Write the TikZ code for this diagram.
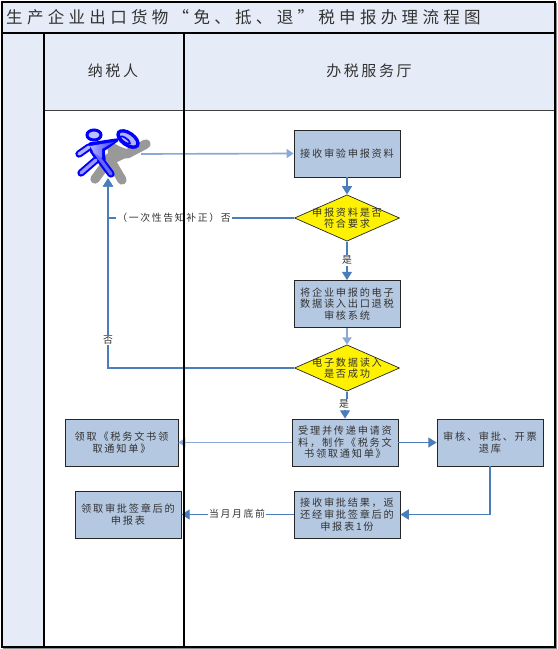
\documentclass[tikz,border=0pt]{standalone}
\usepackage{fontspec}
\usepackage{xcolor}
\setmainfont{Noto Sans CJK SC}[LetterSpace=17]
\newfontfamily\titlefont{Noto Sans CJK SC}[LetterSpace=26]
\usetikzlibrary{arrows.meta, positioning, calc, shapes.geometric, shadows}
\definecolor{laneblue}{HTML}{E6ECF7}
\definecolor{boxblue}{HTML}{B5C8E2}
\definecolor{flowblue}{HTML}{4A7EBB}
\definecolor{paleblue}{HTML}{8BA9D6}
\definecolor{inkgray}{HTML}{333333}

\begin{document}
\begin{tikzpicture}[
  x=0.03cm, y=-0.03cm,
  lane/.style={draw=black, line width=0.9pt, fill=laneblue},
  rule/.style={draw=black, line width=0.9pt},
  thinrule/.style={draw=black!75, line width=0.7pt},
  task/.style={rectangle, draw=black!85, line width=0.7pt, fill=boxblue, minimum width=3.18cm, minimum height=1.41cm, align=center, font=\fontsize{8.7pt}{9.9pt}\selectfont, text=inkgray, inner sep=0pt, drop shadow={shadow xshift=0.5pt, shadow yshift=-0.5pt, fill=black!45, opacity=1}},
  check/.style={diamond, draw=black!85, line width=0.6pt, fill=yellow, minimum width=3.15cm, minimum height=1.39cm, inner sep=0pt},
  cell/.style={align=center, font=\fontsize{8.7pt}{9.9pt}\selectfont, text=inkgray, inner sep=0pt},
  tag/.style={font=\fontsize{8.4pt}{9.9pt}\selectfont, text=inkgray, fill=white, inner sep=1pt},
  head/.style={font=\fontsize{12.8pt}{14pt}\selectfont, text=inkgray},
  arrow/.style={-{Triangle[length=2.5mm, width=3mm]}, flowblue, line width=1.25pt},
  palearrow/.style={-{Triangle[length=2.1mm, width=2.7mm]}, paleblue, line width=1.4pt},
  actorline/.style={line cap=round, line join=round},
  limb/.style={actorline, blue, line width=0.22cm},
  limbcore/.style={actorline, line width=0.1cm}
]
\useasboundingbox (0,0) rectangle (557,649);
\fill[black!45] (3,3) rectangle (557,649);
\draw[lane] (2,2) rectangle (555,647);
\fill[white] (44,110) rectangle (555,647);
\node[font=\fontsize{14.1pt}{16pt}\titlefont, text=inkgray, anchor=west, inner sep=0pt] (title) at (6,17) {生产企业出口货物“免、抵、退”税申报办理流程图};
\node[head] (taxpayer) at (113,71) {纳税人};
\node[head] (hall) at (369,71) {办税服务厅};

\draw[black!40, fill=black!40, line width=0.2cm, actorline] (112,146) -- (126,154) -- (110,162) -- cycle;
\draw[black!40, line width=0.28cm, actorline] (112,149) -- (127,154) -- (146,144);
\draw[black!40, line width=0.28cm, actorline] (109,160) -- (95,179);
\draw[black!40, line width=0.28cm, actorline] (109,158) -- (122,180);
\draw[limb] (89,147) -- (79,154);
\draw[limb] (96,160) -- (81,173);
\draw[limb] (93,150) -- (111,174);
\draw[blue, fill=blue, line width=0.1cm, actorline] (90,144) -- (117,140) -- (103,150) -- (104,160) -- (94,155) -- cycle;
\draw[limbcore, white!70!blue] (89,147) -- (79,154);
\draw[limbcore, white!60!blue] (96,160) -- (81,173);
\draw[limbcore, white!40!blue] (94,151) -- (111,174);
\shade[left color=white!70!blue, right color=blue!75, actorline] (90,146) -- (114,142) -- (102,149) -- (102,158) -- (94,153) -- cycle;
\draw[blue, line width=0.09cm, fill=white!75!blue] (94,135) ellipse (7 and 5);
\draw[blue, line width=0.1cm, fill=white!70!blue, rotate around={-35:(128,139)}] (128,139) ellipse (11.5 and 6);
\draw[blue, line width=0.05cm, rotate around={-35:(125,140)}] (125,140) ellipse (6 and 2);

\node[minimum width=1.98cm, minimum height=1.44cm, inner sep=0pt] (actor) at (108,154) {};
\node[task] (receive) at (347,153.5) {接收审验申报资料};
\node[check] (verify) at (347,218) {};
\node[cell] (verifytext) at (verify) {申报资料是否\\符合要求};
\node[task] (load) at (347,304) {将企业申报的电子\\数据读入出口退税\\审核系统};
\node[check] (loaded) at (347,368) {};
\node[cell] (loadedtext) at (loaded) {电子数据读入\\是否成功};
\node[task] (accept) at (345,442.5) {受理并传递申请资\\料，制作《税务文\\书领取通知单》};
\node[task] (audit) at (490,442.5) {审核、审批、开票\\退库};
\node[task] (result) at (347,514.5) {接收审批结果，返\\还经审批签章后的\\申报表1份};
\node[task, minimum width=3.39cm] (notice) at (121.5,442.5) {领取《税务文书领\\取通知单》};
\node[task] (signed) at (128,514.5) {领取审批签章后的\\申报表};

\draw[palearrow] (actor.east) -- (receive.west);
\draw[arrow] (receive.south) -- (verify.north);
\draw[arrow] (verify.west) -| (actor.south);
\draw[arrow] (verify.south) -- (load.north);
\draw[palearrow] (load.south) -- (loaded.north);
\draw[arrow] (loaded.west) -| (actor.south);
\draw[arrow] (loaded.south) -- ++(0,14) -| (accept.north);
\draw[arrow] (accept.east) -- (audit.west);
\draw[arrow] (audit.south) |- (result.east);
\draw[palearrow] (accept.west) -- (notice.east);
\draw[arrow] (result.west) -- (signed.east);

\node[tag] (nofix) at (174,218) {（一次性告知补正）否};
\node[tag] (yesverify) at (347,260) {是};
\node[tag] (noload) at (108,340) {否};
\node[tag] (yesload) at (344,404) {是};
\node[tag] (monthend) at (237,514) {当月月底前};

\draw[rule] (2,33) -- (555,33);
\draw[thinrule] (44,110) -- (555,110);
\draw[rule] (44,33) -- (44,647);
\draw[rule] (184,33) -- (184,647);
\draw[rule] (2,2) rectangle (555,647);
\end{tikzpicture}
\end{document}
